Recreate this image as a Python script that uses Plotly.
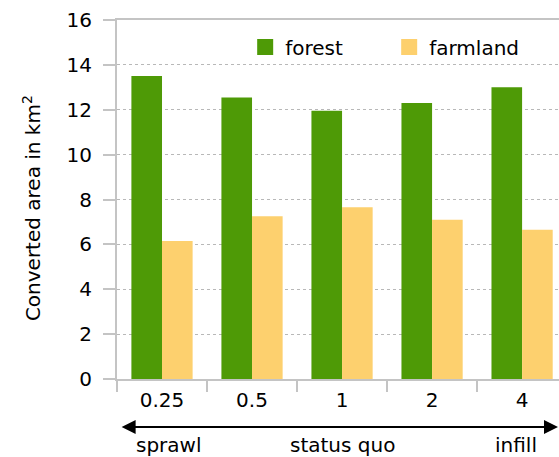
import plotly.graph_objects as go

categories = ["0.25", "0.5", "1", "2", "4"]
forest = [13.5, 12.55, 11.95, 12.3, 13.0]
farmland = [6.15, 7.25, 7.65, 7.1, 6.65]
y_ticks = [0, 2, 4, 6, 8, 10, 12, 14, 16]
bottom_labels = ["sprawl", "status quo", "infill"]
y_title = "Converted area in km<sup>2</sup>"

GREEN = "#4e9a06"
YELLOW = "#fdd06e"
GREY = "#c4c4c4"
FONT = "DejaVu Sans"

fig = go.Figure()
fig.add_trace(go.Bar(x=categories, y=forest, name="forest", marker=dict(color=GREEN, line=dict(width=0)), showlegend=False))
fig.add_trace(go.Bar(x=categories, y=farmland, name="farmland", marker=dict(color=YELLOW, line=dict(width=0)), showlegend=False))
# legend entries with larger square symbols
fig.add_trace(go.Scatter(x=[None], y=[None], mode="markers", name="forest",
                         marker=dict(symbol="square", size=17, color=GREEN, line=dict(width=0))))
fig.add_trace(go.Scatter(x=[None], y=[None], mode="markers", name="farmland",
                         marker=dict(symbol="square", size=17, color=YELLOW, line=dict(width=0))))

fig.update_layout(
    width=559, height=457,
    margin=dict(l=117, r=0, t=20, b=78, pad=0),
    paper_bgcolor="white", plot_bgcolor="white",
    font=dict(family=FONT, size=20, color="black"),
    barmode="group", bargap=0.32, bargroupgap=0,
    legend=dict(orientation="h", x=0.29, xanchor="left", y=0.925, yanchor="middle",
                font=dict(size=20, color="black"), bgcolor="rgba(0,0,0,0)",
                entrywidth=99, entrywidthmode="pixels", itemsizing="trace"),
    xaxis=dict(type="category", categoryorder="array", categoryarray=categories,
               range=[-0.5, 4.41], showgrid=False, zeroline=False,
               showline=True, linecolor=GREY, linewidth=1.5, mirror=True,
               ticks="outside", ticklen=11, tickcolor=GREY, tickwidth=1.5,
               tickson="boundaries", ticklabelstandoff=2, tickfont=dict(size=20, color="black")),
    yaxis=dict(range=[0, 16], tickvals=y_ticks, showgrid=True, gridcolor="#b8b8b8",
               griddash="3px,3px", gridwidth=1.2, zeroline=False,
               showline=True, linecolor=GREY, linewidth=2,
               ticks="outside", ticklen=12, tickcolor=GREY, tickwidth=1.5,
               ticklabelstandoff=7, tickfont=dict(size=20, color="black")),
)

# y-axis title
fig.add_annotation(xref="paper", yref="paper", x=-0.1923, y=0.476, xanchor="center", yanchor="middle",
                   text=y_title, textangle=-90, showarrow=False, font=dict(size=20, color="black"))

# double-headed arrow below the axis
fig.add_annotation(xref="paper", yref="paper", x=0.998, y=-0.1337, ax=-438, ay=0,
                   text="", showarrow=True, arrowhead=2, startarrowhead=2, arrowside="end+start",
                   arrowwidth=2, arrowsize=1.4, startarrowsize=1.4, arrowcolor="black")
for label, xp in zip(bottom_labels, [0.1176, 0.511, 0.903]):
    fig.add_annotation(xref="paper", yref="paper", x=xp, y=-0.145, yanchor="top", xanchor="center",
                       text=label, showarrow=False, font=dict(size=20, color="black"))

fig.write_html("out.html", config={"displayModeBar": False},
               post_script="document.body.style.margin='0px';document.body.style.padding='0px';")
